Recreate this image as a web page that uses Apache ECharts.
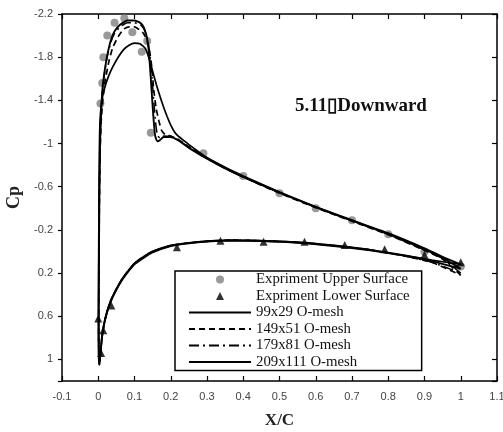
<!DOCTYPE html>
<html><head><meta charset="utf-8">
<script src="https://cdn.jsdelivr.net/npm/echarts@6/dist/echarts.min.js"></script>
<style>html,body{margin:0;padding:0;background:#fff}#c{width:503px;height:432px}</style>
</head><body><div id="c"></div>
<script>
// Experimental data [x/c, Cp]
const expUpper = [[0.006,-1.37],[0.011,-1.56],[0.014,-1.80],[0.025,-2.00],[0.045,-2.12],[0.072,-2.16],[0.094,-2.03],[0.12,-1.85],[0.135,-1.95],[0.145,-1.10],[0.29,-0.91],[0.40,-0.70],[0.50,-0.54],[0.60,-0.40],[0.70,-0.29],[0.80,-0.16],[0.90,0.00],[1.0,0.14]];
const expLower = [[0.0,0.62],[0.008,0.94],[0.014,0.73],[0.036,0.50],[0.217,-0.04],[0.337,-0.10],[0.456,-0.09],[0.569,-0.09],[0.68,-0.06],[0.79,-0.02],[0.90,0.03],[1.0,0.10]];

// CFD: upper surface (TE -> LE) and lower surface (LE -> TE)
const mesh99Upper = [[1.0,0.12],[0.95,0.05],[0.9,-0.03],[0.8,-0.17],[0.7,-0.29],[0.6,-0.415],[0.5,-0.55],[0.4,-0.70],[0.35,-0.78],[0.3,-0.87],[0.25,-0.99],[0.235,-1.03],[0.22,-1.07],[0.21,-1.11],[0.2,-1.17],[0.19,-1.25],[0.18,-1.34],[0.171,-1.43],[0.16,-1.55],[0.15,-1.67],[0.14,-1.79],[0.13,-1.88],[0.115,-1.925],[0.1,-1.93],[0.085,-1.91],[0.07,-1.87],[0.055,-1.8],[0.04,-1.71],[0.028,-1.62],[0.018,-1.52],[0.01,-1.4],[0.005,-1.22],[0.003,-0.9],[0.002,-0.4],[0.001,0.2],[0.001,0.7],[0.003,1.05]];
const mesh99Lower = [[0.006,0.96],[0.01,0.81],[0.016,0.68],[0.024,0.57],[0.034,0.47],[0.048,0.37],[0.065,0.27],[0.08,0.2],[0.1,0.12],[0.125,0.06],[0.15,0.01],[0.2,-0.05],[0.25,-0.075],[0.3,-0.09],[0.37,-0.1],[0.45,-0.095],[0.55,-0.08],[0.65,-0.05],[0.75,-0.01],[0.85,0.04],[0.92,0.08],[1.0,0.12]];

const mesh149Upper = [[1.0,0.22],[0.95,0.07],[0.9,-0.01],[0.8,-0.155],[0.7,-0.28],[0.6,-0.405],[0.5,-0.54],[0.4,-0.69],[0.35,-0.77],[0.3,-0.865],[0.25,-0.97],[0.22,-1.04],[0.2,-1.07],[0.185,-1.08],[0.175,-1.12],[0.168,-1.2],[0.16,-1.32],[0.153,-1.5],[0.148,-1.7],[0.142,-1.85],[0.135,-1.95],[0.125,-2.02],[0.115,-2.05],[0.1,-2.08],[0.085,-2.08],[0.07,-2.06],[0.055,-1.99],[0.04,-1.89],[0.03,-1.77],[0.02,-1.6],[0.013,-1.42],[0.008,-1.2],[0.005,-0.9],[0.003,-0.4],[0.002,0.2],[0.001,0.7],[0.003,1.05]];
const mesh149Lower = [[0.006,0.95],[0.01,0.8],[0.016,0.67],[0.024,0.56],[0.034,0.46],[0.048,0.36],[0.065,0.26],[0.08,0.19],[0.1,0.11],[0.125,0.05],[0.15,0.0],[0.2,-0.055],[0.25,-0.08],[0.3,-0.095],[0.37,-0.105],[0.45,-0.1],[0.55,-0.085],[0.65,-0.055],[0.75,-0.015],[0.85,0.045],[0.92,0.1],[1.0,0.22]];

const mesh179Upper = [[1.0,0.2],[0.95,0.065],[0.9,-0.015],[0.8,-0.16],[0.7,-0.285],[0.6,-0.41],[0.5,-0.545],[0.4,-0.69],[0.35,-0.77],[0.3,-0.86],[0.25,-0.965],[0.22,-1.035],[0.2,-1.065],[0.18,-1.07],[0.17,-1.05],[0.163,-1.08],[0.158,-1.2],[0.153,-1.4],[0.148,-1.62],[0.143,-1.8],[0.138,-1.93],[0.13,-2.03],[0.12,-2.09],[0.1,-2.12],[0.08,-2.12],[0.06,-2.08],[0.045,-2.02],[0.035,-1.94],[0.025,-1.81],[0.018,-1.67],[0.012,-1.51],[0.008,-1.3],[0.005,-1.0],[0.003,-0.5],[0.002,0.0],[0.001,0.5],[0.001,0.9],[0.003,1.05]];
const mesh179Lower = [[0.006,0.95],[0.01,0.8],[0.016,0.67],[0.024,0.56],[0.034,0.46],[0.048,0.36],[0.065,0.26],[0.08,0.19],[0.1,0.11],[0.125,0.05],[0.15,0.0],[0.2,-0.055],[0.25,-0.08],[0.3,-0.095],[0.37,-0.105],[0.45,-0.1],[0.55,-0.085],[0.65,-0.055],[0.75,-0.015],[0.85,0.045],[0.92,0.1],[1.0,0.2]];

const mesh209Upper = [[1.0,0.16],[0.95,0.06],[0.9,-0.02],[0.8,-0.16],[0.7,-0.285],[0.6,-0.41],[0.5,-0.545],[0.4,-0.69],[0.35,-0.77],[0.3,-0.86],[0.25,-0.96],[0.22,-1.03],[0.2,-1.06],[0.18,-1.06],[0.17,-1.03],[0.163,-1.02],[0.157,-1.07],[0.152,-1.25],[0.147,-1.5],[0.142,-1.75],[0.138,-1.9],[0.133,-2.0],[0.125,-2.08],[0.115,-2.12],[0.1,-2.14],[0.08,-2.14],[0.06,-2.1],[0.045,-2.04],[0.035,-1.96],[0.025,-1.82],[0.018,-1.68],[0.012,-1.52],[0.008,-1.3],[0.005,-1.0],[0.003,-0.5],[0.002,0.0],[0.001,0.5],[0.001,0.9],[0.003,1.05]];
const mesh209Lower = [[0.006,0.95],[0.01,0.8],[0.016,0.67],[0.024,0.56],[0.034,0.46],[0.048,0.36],[0.065,0.26],[0.08,0.19],[0.1,0.11],[0.125,0.05],[0.15,0.0],[0.2,-0.055],[0.25,-0.08],[0.3,-0.095],[0.37,-0.105],[0.45,-0.1],[0.55,-0.085],[0.65,-0.055],[0.75,-0.015],[0.85,0.04],[0.92,0.09],[1.0,0.16]];

const seriesNames = ['Expriment Upper Surface','Expriment Lower Surface','99x29 O-mesh','149x51 O-mesh','179x81 O-mesh','209x111 O-mesh'];
const xTicks = {min:-0.1, max:1.1, interval:0.1};
const yTicks = {min:-2.2, max:1.2, interval:0.4};
const annotation = '5.11\u25AFDownward';

const chart = echarts.init(document.getElementById('c'));
const axisLine = {show:true, onZero:false, lineStyle:{color:'#000', width:1.5}};
const lineSeries = (name, data, dash, w) => ({
  name, type:'line', data, showSymbol:false, symbol:'none', smooth:0.15,
  itemStyle:{color:'#000'},
  lineStyle:{color:'#000', width:w, type: dash}, z:3, animation:false
});
const triIcon = 'path://M0,0 M62,8 M27,8 L31,0 L35,8 Z';
chart.setOption({
  animation:false,
  backgroundColor:'#fff',
  grid:{left:62, top:14, right:6, bottom:51, outerBoundsMode:'none', containLabel:false},
  xAxis:[
    {type:'value', min:xTicks.min, max:xTicks.max, interval:xTicks.interval, position:'bottom',
     axisLine, splitLine:{show:false},
     axisTick:{show:true, inside:true, length:5, lineStyle:{color:'#000', width:1.2}},
     axisLabel:{color:'#444', fontFamily:'Liberation Sans', fontSize:11, margin:10,
       formatter:v=>String(Math.round(v*10)/10)},
     name:'X/C', nameLocation:'middle', nameGap:31,
     nameTextStyle:{fontFamily:'Liberation Serif', fontWeight:'bold', fontSize:17, color:'#222'}},
    {type:'value', min:xTicks.min, max:xTicks.max, interval:xTicks.interval, position:'top',
     axisLine, splitLine:{show:false}, axisLabel:{show:false},
     axisTick:{show:true, inside:true, length:5, lineStyle:{color:'#000', width:1.2}}}
  ],
  yAxis:[
    {type:'value', inverse:true, min:yTicks.min, max:yTicks.max, interval:yTicks.interval, position:'left',
     axisLine, splitLine:{show:false},
     axisTick:{show:true, inside:false, length:4, lineStyle:{color:'#000', width:1.2}},
     axisLabel:{color:'#444', fontFamily:'Liberation Sans', fontSize:11, margin:9,
       formatter:v=> Math.abs(v-1.2)<1e-6 ? '' : String(Math.round(v*10)/10)},
     name:'Cp', nameLocation:'middle', nameGap:32,
     nameTextStyle:{fontFamily:'Liberation Serif', fontWeight:'bold', fontSize:18, color:'#222'}},
    {type:'value', inverse:true, min:yTicks.min, max:yTicks.max, interval:yTicks.interval, position:'right',
     axisLine, splitLine:{show:false}, axisLabel:{show:false},
     axisTick:{show:true, inside:true, length:5, lineStyle:{color:'#000', width:1.2}}}
  ],
  legend:{
    orient:'vertical', left:175, top:271,
    data:[
      {name:seriesNames[0]},
      {name:seriesNames[1], icon:triIcon},
      {name:seriesNames[2], itemStyle:{opacity:0}},
      {name:seriesNames[3], itemStyle:{opacity:0}},
      {name:seriesNames[4], itemStyle:{opacity:0}},
      {name:seriesNames[5], itemStyle:{opacity:0}}
    ],
    itemWidth:62, itemHeight:8, itemGap:1.5, symbolKeepAspect:true,
    padding:[1,12,1,13], borderColor:'#000', borderWidth:1.5, backgroundColor:'#fff',
    textStyle:{fontFamily:'Liberation Serif', fontSize:14.8, lineHeight:14, color:'#111'},
    selectedMode:false
  },
  graphic:[{type:'text', left:295, top:97, style:{text:annotation, font:'bold 19px "Liberation Serif"', fill:'#111'}}],
  series:[
    lineSeries(seriesNames[2], mesh99Upper.concat(mesh99Lower), 'solid', 1.7),
    lineSeries(seriesNames[3], mesh149Upper.concat(mesh149Lower), [6,4], 1.7),
    lineSeries(seriesNames[4], mesh179Upper.concat(mesh179Lower), [10,4,2,4], 1.5),
    lineSeries(seriesNames[5], mesh209Upper.concat(mesh209Lower), 'solid', 1.9),
    {name:seriesNames[0], type:'scatter', data:expUpper, symbol:'circle', symbolSize:8,
     itemStyle:{color:'#808080'}, z:2},
    {name:seriesNames[1], type:'scatter', data:expLower, symbol:'triangle', symbolSize:8,
     itemStyle:{color:'#000'}, z:4}
  ]
});
</script></body></html>
